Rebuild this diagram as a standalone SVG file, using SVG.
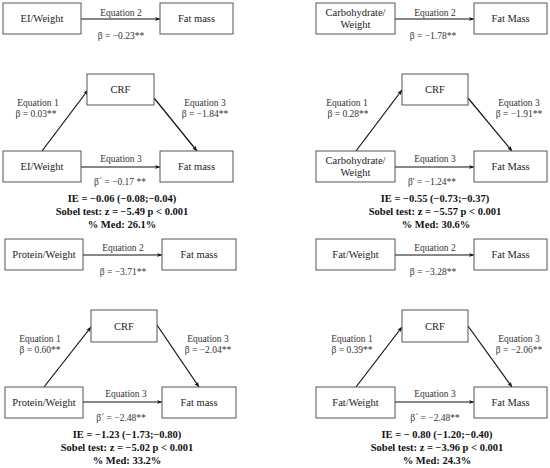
<svg xmlns="http://www.w3.org/2000/svg" width="550" height="468" viewBox="0 0 550 468">
<style>
.box{fill:#fff;stroke:#555;stroke-width:1}
.bt{font-family:"Liberation Serif","Times New Roman",serif;font-size:10.5px;fill:#222;text-anchor:middle}
.lb{font-family:"Liberation Serif","Times New Roman",serif;font-size:9.5px;fill:#333;text-anchor:middle}
.bd{font-family:"Liberation Serif","Times New Roman",serif;font-size:10.5px;font-weight:bold;fill:#111;text-anchor:middle}
.ar{stroke:#111;stroke-width:1.2;fill:none;marker-end:url(#ah)}
</style>
<defs>
<marker id="ah" viewBox="0 0 10 10" refX="9.5" refY="5" markerWidth="4.5" markerHeight="4.5" orient="auto" markerUnits="strokeWidth">
<path d="M0,1 L10,5 L0,9 L3,5 Z" fill="#111"/>
</marker>
</defs>
<rect width="550" height="468" fill="#fff"/>
<g id="connectors">
<line class="ar" x1="81" y1="19" x2="160" y2="19"/>
<line class="ar" x1="42" y1="151" x2="88" y2="90"/>
<line class="ar" x1="154" y1="98" x2="197" y2="151"/>
<line class="ar" x1="81" y1="167" x2="160" y2="167"/>
<line class="ar" x1="395" y1="19" x2="474" y2="19"/>
<line class="ar" x1="356" y1="151" x2="402" y2="90"/>
<line class="ar" x1="468" y1="98" x2="512" y2="151"/>
<line class="ar" x1="395" y1="167" x2="474" y2="167"/>
<line class="ar" x1="83" y1="255" x2="162" y2="255"/>
<line class="ar" x1="44" y1="387" x2="91" y2="327"/>
<line class="ar" x1="157" y1="325" x2="199" y2="387"/>
<line class="ar" x1="83" y1="402" x2="162" y2="402"/>
<line class="ar" x1="395" y1="255" x2="474" y2="255"/>
<line class="ar" x1="356" y1="387" x2="402" y2="327"/>
<line class="ar" x1="468" y1="326" x2="512" y2="387"/>
<line class="ar" x1="395" y1="402" x2="474" y2="402"/>
</g>
<g id="p1-ei-top"><rect class="box" x="3" y="3" width="78" height="31"/><text class="bt" x="42" y="22">EI/Weight</text></g>
<g id="p1-fat-top"><rect class="box" x="160" y="3" width="73" height="31"/><text class="bt" x="196.5" y="22">Fat mass</text></g>
<g id="p1-crf"><rect class="box" x="87" y="74" width="67" height="31"/><text class="bt" x="120.5" y="93">CRF</text></g>
<g id="p1-ei"><rect class="box" x="3" y="151" width="78" height="31"/><text class="bt" x="42" y="170">EI/Weight</text></g>
<g id="p1-fat"><rect class="box" x="160" y="151" width="73" height="31"/><text class="bt" x="196.5" y="170">Fat mass</text></g>
<g id="p1-labels">
<text class="lb" x="121" y="16">Equation 2</text>
<text class="lb" x="121" y="39">β = −0.23**</text>
<text class="lb" x="38" y="106">Equation 1</text>
<text class="lb" x="36" y="117">β = 0.03**</text>
<text class="lb" x="205" y="106">Equation 3</text>
<text class="lb" x="205" y="117">β = −1.84**</text>
<text class="lb" x="121" y="162">Equation 3</text>
<text class="lb" x="120" y="185">β´ = −0.17 **</text>
<text class="bd" x="122" y="202">IE = −0.06 (−0.08;−0.04)</text>
<text class="bd" x="122" y="215">Sobel test: z = −5.49 p &lt; 0.001</text>
<text class="bd" x="122" y="228">% Med: 26.1%</text>
</g>
<g id="p2-carb-top"><rect class="box" x="316" y="3" width="79" height="31"/><text class="bt" x="355.5" y="16">Carbohydrate/</text><text class="bt" x="355.5" y="28">Weight</text></g>
<g id="p2-fat-top"><rect class="box" x="474" y="3" width="73" height="31"/><text class="bt" x="510.5" y="22">Fat Mass</text></g>
<g id="p2-crf"><rect class="box" x="402" y="74" width="66" height="31"/><text class="bt" x="435" y="93">CRF</text></g>
<g id="p2-carb"><rect class="box" x="316" y="151" width="79" height="31"/><text class="bt" x="355.5" y="164">Carbohydrate/</text><text class="bt" x="355.5" y="176">Weight</text></g>
<g id="p2-fat"><rect class="box" x="474" y="151" width="73" height="31"/><text class="bt" x="510.5" y="170">Fat Mass</text></g>
<g id="p2-labels">
<text class="lb" x="435" y="16">Equation 2</text>
<text class="lb" x="433" y="39">β = −1.78**</text>
<text class="lb" x="347" y="106">Equation 1</text>
<text class="lb" x="348" y="117">β = 0.28**</text>
<text class="lb" x="519" y="106">Equation 3</text>
<text class="lb" x="519" y="117">β = −1.91**</text>
<text class="lb" x="435" y="162">Equation 3</text>
<text class="lb" x="432" y="185">β' = −1.24**</text>
<text class="bd" x="435" y="202">IE = −0.55 (−0.73;−0.37)</text>
<text class="bd" x="435" y="215">Sobel test: z = −5.57 p &lt; 0.001</text>
<text class="bd" x="436" y="228">% Med: 30.6%</text>
</g>
<g id="p3-prot-top"><rect class="box" x="5" y="239" width="78" height="31"/><text class="bt" x="44" y="258">Protein/Weight</text></g>
<g id="p3-fat-top"><rect class="box" x="162" y="239" width="74" height="31"/><text class="bt" x="199" y="258">Fat mass</text></g>
<g id="p3-crf"><rect class="box" x="91" y="310" width="66" height="32"/><text class="bt" x="124" y="330">CRF</text></g>
<g id="p3-prot"><rect class="box" x="5" y="387" width="78" height="31"/><text class="bt" x="44" y="406">Protein/Weight</text></g>
<g id="p3-fat"><rect class="box" x="162" y="387" width="74" height="31"/><text class="bt" x="199" y="406">Fat mass</text></g>
<g id="p3-labels">
<text class="lb" x="123" y="251">Equation 2</text>
<text class="lb" x="123" y="275">β = −3.71**</text>
<text class="lb" x="40" y="342">Equation 1</text>
<text class="lb" x="40" y="353">β = 0.60**</text>
<text class="lb" x="208" y="342">Equation 3</text>
<text class="lb" x="208" y="353">β = −2.04**</text>
<text class="lb" x="126" y="397">Equation 3</text>
<text class="lb" x="121" y="421">β´ = −2.48**</text>
<text class="bd" x="127" y="438">IE = −1.23 (−1.73;−0.80)</text>
<text class="bd" x="127" y="451">Sobel test: z = −5.02 p &lt; 0.001</text>
<text class="bd" x="127" y="464">% Med: 33.2%</text>
</g>
<g id="p4-fatw-top"><rect class="box" x="316" y="239" width="79" height="31"/><text class="bt" x="355.5" y="258">Fat/Weight</text></g>
<g id="p4-fat-top"><rect class="box" x="474" y="239" width="73" height="31"/><text class="bt" x="510.5" y="258">Fat Mass</text></g>
<g id="p4-crf"><rect class="box" x="402" y="310" width="66" height="32"/><text class="bt" x="435" y="330">CRF</text></g>
<g id="p4-fatw"><rect class="box" x="316" y="387" width="79" height="31"/><text class="bt" x="355.5" y="406">Fat/Weight</text></g>
<g id="p4-fat"><rect class="box" x="474" y="387" width="73" height="31"/><text class="bt" x="510.5" y="406">Fat Mass</text></g>
<g id="p4-labels">
<text class="lb" x="435" y="251">Equation 2</text>
<text class="lb" x="433" y="275">β = −3.28**</text>
<text class="lb" x="352" y="342">Equation 1</text>
<text class="lb" x="352" y="353">β = 0.39**</text>
<text class="lb" x="519" y="342">Equation 3</text>
<text class="lb" x="519" y="353">β = −2.06**</text>
<text class="lb" x="435" y="397">Equation 3</text>
<text class="lb" x="435" y="421">β´ = −2.48**</text>
<text class="bd" x="437" y="438">IE = − 0.80 (−1.20;−0.40)</text>
<text class="bd" x="437" y="451">Sobel test: z = −3.96 p &lt; 0.001</text>
<text class="bd" x="437" y="464">% Med: 24.3%</text>
</g>
</svg>
